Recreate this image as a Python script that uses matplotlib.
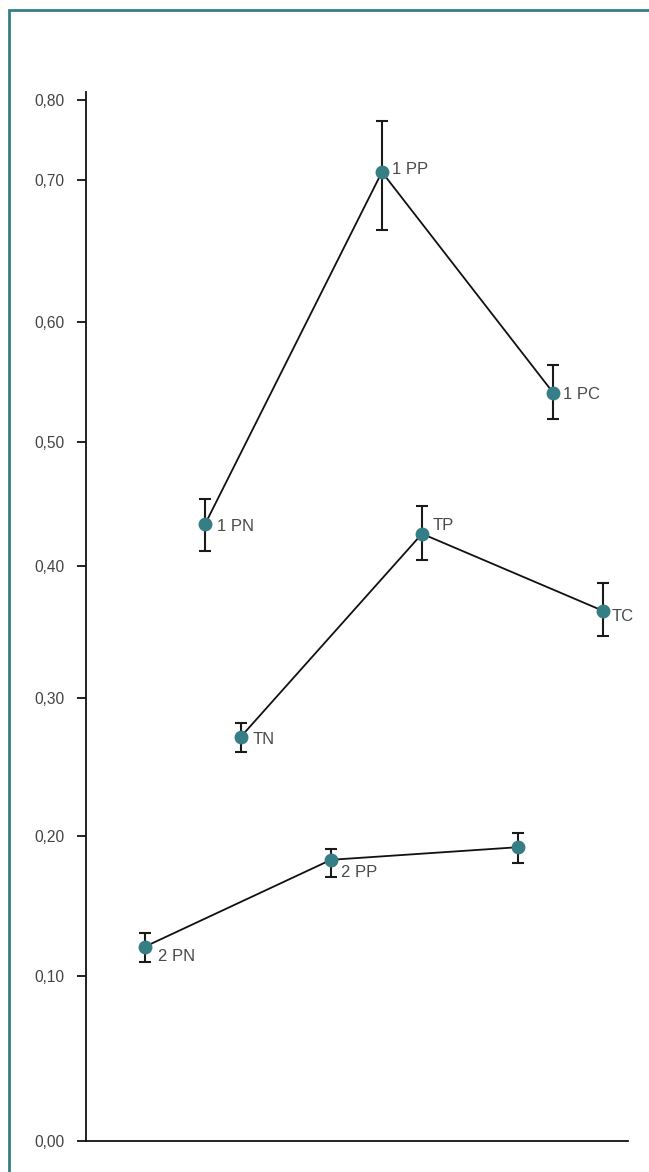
import numpy as np
import matplotlib
matplotlib.use("Agg")
import matplotlib.pyplot as plt
from matplotlib.patches import Rectangle
from matplotlib.ticker import FixedLocator, FuncFormatter

# ---- data ----
labels_1 = ["1 PN", "1 PP", "1 PC"]
x_1 = [2.2, 5.46, 8.62]
y_1 = [0.434, 0.710, 0.541]
lo_1 = [0.412, 0.665, 0.519]
hi_1 = [0.454, 0.774, 0.564]

labels_t = ["TN", "TP", "TC"]
x_t = [2.86, 6.2, 9.54]
y_t = [0.272, 0.426, 0.366]
lo_t = [0.261, 0.405, 0.347]
hi_t = [0.282, 0.448, 0.387]

labels_2 = ["2 PN", "2 PP", ""]
x_2 = [1.09, 4.52, 7.97]
y_2 = [0.121, 0.183, 0.192]
lo_2 = [0.110, 0.171, 0.181]
hi_2 = [0.131, 0.191, 0.202]

yticks = [0.0, 0.1, 0.2, 0.3, 0.4, 0.5, 0.6, 0.7, 0.8]

# ---- non-uniform vertical scale as drawn in the reference ----
_sv = np.array([-1.0, 0.0, 0.1, 0.2, 0.3, 0.4, 0.5, 0.6, 0.7, 0.8, 0.81, 2.0])
_sp = np.array([-1650.0, 0.0, 165.0, 305.0, 443.0, 575.0, 699.0, 819.0, 961.0, 1041.0, 1049.0, 1049.0 + 119 * 80.0])

def fwd(v):
    return np.interp(v, _sv, _sp)

def inv(p):
    return np.interp(p, _sp, _sv)

W, H = 649, 1172
fig = plt.figure(figsize=(W / 100, H / 100), dpi=100)
fig.patch.set_facecolor("white")

teal = "#357e85"
fig.patches.append(Rectangle((8.5 / W, -0.1), 1.2, 1 - 10 / H + 0.1, transform=fig.transFigure,
                             fill=False, edgecolor=teal, linewidth=2, zorder=0))

ax = fig.add_axes([86 / W, 31 / H, (628 - 86) / W, (1141 - 92) / H])
ax.set_yscale("function", functions=(fwd, inv))
ax.set_ylim(0, 0.81)
ax.set_xlim(0, 10)

for xs, ys, lo, hi in [(x_1, y_1, lo_1, hi_1), (x_t, y_t, lo_t, hi_t), (x_2, y_2, lo_2, hi_2)]:
    ys_a = np.array(ys)
    yerr = [ys_a - np.array(lo), np.array(hi) - ys_a]
    ax.errorbar(xs, ys, yerr=yerr, fmt="none", ecolor="#1a1a1a", elinewidth=1.5,
                capsize=4.5, capthick=1.5, zorder=2)
    ax.plot(xs, ys, color="#111111", lw=1.3, zorder=3)
    ax.plot(xs, ys, "o", color=teal, ms=9, mec=teal, zorder=4)

offsets_1 = [(12, -3), (10, 3), (10, -2)]
offsets_t = [(12, -3), (11, 8), (9, -6)]
offsets_2 = [(13, -10), (10, -13), (0, 0)]
for labs, xs, ys, offs in [(labels_1, x_1, y_1, offsets_1), (labels_t, x_t, y_t, offsets_t),
                           (labels_2, x_2, y_2, offsets_2)]:
    for lab, xv, yv, off in zip(labs, xs, ys, offs):
        if lab:
            ax.annotate(lab, (xv, yv), xytext=off, textcoords="offset pixels",
                        ha="left", va="center", fontsize=12, color="#4a4a4a",
                        family="Liberation Sans")

ax.yaxis.set_major_locator(FixedLocator(yticks))
ax.yaxis.set_minor_locator(FixedLocator([]))
ax.yaxis.set_major_formatter(FuncFormatter(lambda v, p: f"{v:.2f}".replace(".", ",")))
ax.set_xticks([])
ax.tick_params(axis="y", length=6.5, width=1.3, pad=9, labelsize=11.2, labelcolor="#444444",
               color="#111111")
for lbl in ax.get_yticklabels():
    lbl.set_family("Liberation Sans")
for s in ["top", "right"]:
    ax.spines[s].set_visible(False)
for s in ["left", "bottom"]:
    ax.spines[s].set_linewidth(1.3)
    ax.spines[s].set_color("#111111")

fig.savefig("out.png", dpi=100)
